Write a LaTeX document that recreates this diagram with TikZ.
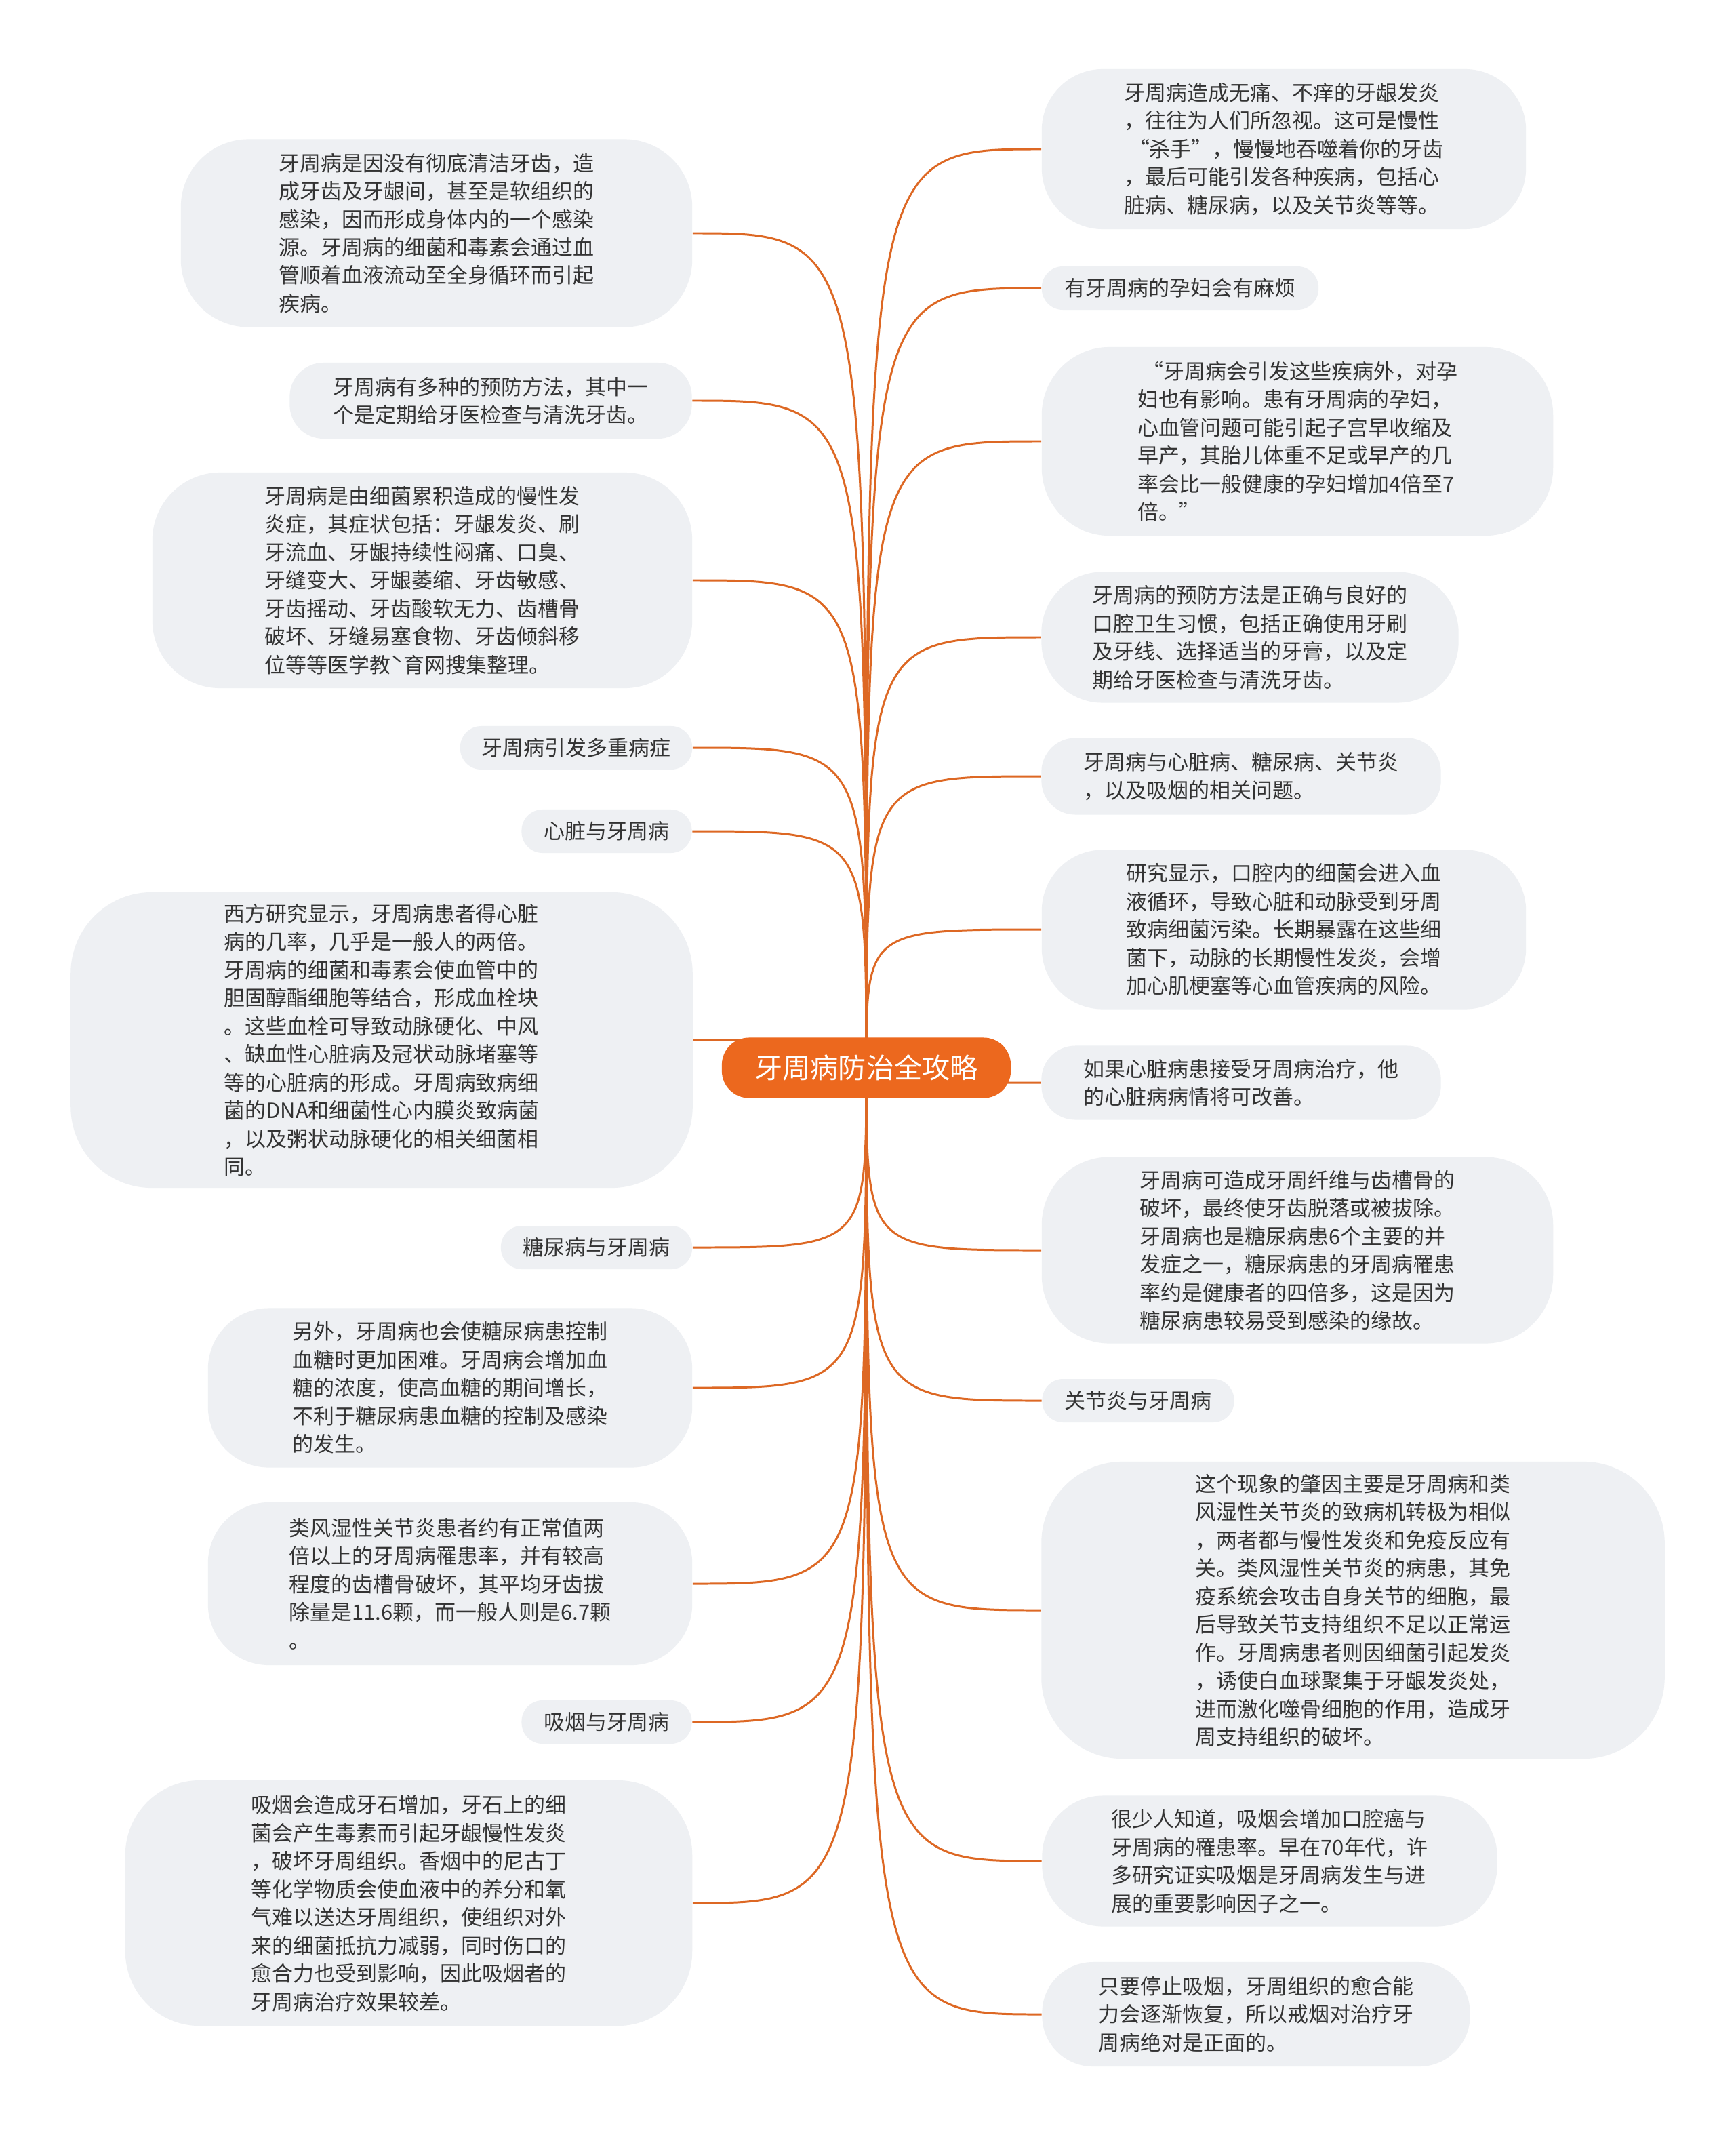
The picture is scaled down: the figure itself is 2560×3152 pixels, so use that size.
\documentclass[tikz,border=0pt]{standalone}
\usepackage{fontspec}
\setmainfont{Noto Sans CJK SC}
\usetikzlibrary{backgrounds}
\definecolor{leafgray}{RGB}{238,240,243}
\definecolor{huborange}{RGB}{236,104,30}
\definecolor{linkorange}{RGB}{221,104,36}
\definecolor{inkgray}{RGB}{51,51,51}
\begin{document}
\begin{tikzpicture}[x=0.01cm, y=-0.01cm,
    leaf/.style={fill=leafgray, text=inkgray, align=left, inner sep=0pt,
      font=\fontsize{8.8pt}{11.8pt}\selectfont},
    tag/.style={leaf, minimum height=0.64cm, rounded corners=0.31cm},
    hub/.style={fill=huborange, text=white, rounded corners=0.4cm,
      minimum width=4.26cm, minimum height=0.89cm,
      font=\fontsize{11.7pt}{14pt}\selectfont},
    link/.style={draw=linkorange, line width=0.85pt}]
    % Page
    \useasboundingbox (0,0) rectangle (2560,3152);

    % Centre
    \node[hub] (hub) at (1278,1575) {牙周病防治全攻略};

    % Left branches
    \node[leaf, minimum width=7.54cm, minimum height=2.77cm, rounded corners=1cm] (infection) at (644,344)
      {牙周病是因没有彻底清洁牙齿，造\\成牙齿及牙龈间，甚至是软组织的\\感染，因而形成身体内的一个感染\\源。牙周病的细菌和毒素会通过血\\管顺着血液流动至全身循环而引起\\疾病。};
    \node[leaf, minimum width=5.93cm, minimum height=1.12cm, rounded corners=0.5cm] (checkup) at (724,591)
      {牙周病有多种的预防方法，其中一\\个是定期给牙医检查与清洗牙齿。};
    \node[leaf, minimum width=7.96cm, minimum height=3.18cm, rounded corners=1cm] (symptoms) at (623,856)
      {牙周病是由细菌累积造成的慢性发\\炎症，其症状包括：牙龈发炎、刷\\牙流血、牙龈持续性闷痛、口臭、\\牙缝变大、牙龈萎缩、牙齿敏感、\\牙齿摇动、牙齿酸软无力、齿槽骨\\破坏、牙缝易塞食物、牙齿倾斜移\\位等等医学教ˋ育网搜集整理。};
    \node[tag, minimum width=3.42cm] (multi) at (850,1103) {牙周病引发多重病症};
    \node[tag, minimum width=2.51cm] (heart) at (895,1226) {心脏与牙周病};
    \node[leaf, minimum width=9.17cm, minimum height=4.36cm, rounded corners=1.2cm] (heartrisk) at (563,1534)
      {西方研究显示，牙周病患者得心脏\\病的几率，几乎是一般人的两倍。\\牙周病的细菌和毒素会使血管中的\\胆固醇酯细胞等结合，形成血栓块\\。这些血栓可导致动脉硬化、中风\\、缺血性心脏病及冠状动脉堵塞等\\等的心脏病的形成。牙周病致病细\\菌的DNA和细菌性心内膜炎致病菌\\，以及粥状动脉硬化的相关细菌相\\同。};
    \node[tag, minimum width=2.82cm] (diabetes) at (880,1840) {糖尿病与牙周病};
    \node[leaf, minimum width=7.14cm, minimum height=2.35cm, rounded corners=0.9cm] (sugar) at (664,2047)
      {另外，牙周病也会使糖尿病患控制\\血糖时更加困难。牙周病会增加血\\糖的浓度，使高血糖的期间增长，\\不利于糖尿病患血糖的控制及感染\\的发生。};
    \node[leaf, minimum width=7.14cm, minimum height=2.40cm, rounded corners=0.9cm] (jointrate) at (664,2336)
      {类风湿性关节炎患者约有正常值两\\倍以上的牙周病罹患率，并有较高\\程度的齿槽骨破坏，其平均牙齿拔\\除量是11.6颗，而一般人则是6.7颗\\。};
    \node[tag, minimum width=2.51cm] (smoking) at (895,2540) {吸烟与牙周病};
    \node[leaf, minimum width=8.36cm, minimum height=3.62cm, rounded corners=1.1cm] (tartar) at (603,2807)
      {吸烟会造成牙石增加，牙石上的细\\菌会产生毒素而引起牙龈慢性发炎\\，破坏牙周组织。香烟中的尼古丁\\等化学物质会使血液中的养分和氧\\气难以送达牙周组织，使组织对外\\来的细菌抵抗力减弱，同时伤口的\\愈合力也受到影响，因此吸烟者的\\牙周病治疗效果较差。};

    % Right branches
    \node[leaf, minimum width=7.14cm, minimum height=2.36cm, rounded corners=0.9cm] (silent) at (1894,220)
      {牙周病造成无痛、不痒的牙龈发炎\\，往往为人们所忽视。这可是慢性\\\hspace*{.2em}“杀手”，慢慢地吞噬着你的牙齿\\，最后可能引发各种疾病，包括心\\脏病、糖尿病，以及关节炎等等。};
    \node[tag, minimum width=4.08cm] (pregnant) at (1741,425) {有牙周病的孕妇会有麻烦};
    \node[leaf, minimum width=7.54cm, minimum height=2.78cm, rounded corners=1cm] (pregrisk) at (1914,651)
      {\hspace*{.25em}“牙周病会引发这些疾病外，对孕\\妇也有影响。患有牙周病的孕妇，\\心血管问题可能引起子宫早收缩及\\早产，其胎儿体重不足或早产的几\\率会比一般健康的孕妇增加4倍至7\\倍。”};
    \node[leaf, minimum width=6.15cm, minimum height=1.93cm, rounded corners=0.9cm] (prevent) at (1844,940)
      {牙周病的预防方法是正确与良好的\\口腔卫生习惯，包括正确使用牙刷\\及牙线、选择适当的牙膏，以及定\\期给牙医检查与清洗牙齿。};
    \node[leaf, minimum width=5.89cm, minimum height=1.13cm, rounded corners=0.5cm] (related) at (1831,1145)
      {牙周病与心脏病、糖尿病、关节炎\\，以及吸烟的相关问题。};
    \node[leaf, minimum width=7.14cm, minimum height=2.35cm, rounded corners=0.9cm] (blood) at (1894,1371)
      {研究显示，口腔内的细菌会进入血\\液循环，导致心脏和动脉受到牙周\\致病细菌污染。长期暴露在这些细\\菌下，动脉的长期慢性发炎，会增\\加心肌梗塞等心血管疾病的风险。};
    \node[leaf, minimum width=5.89cm, minimum height=1.09cm, rounded corners=0.5cm] (treat) at (1831,1597)
      {如果心脏病患接受牙周病治疗，他\\的心脏病病情将可改善。};
    \node[leaf, minimum width=7.54cm, minimum height=2.75cm, rounded corners=1cm] (bone) at (1914,1844)
      {牙周病可造成牙周纤维与齿槽骨的\\破坏，最终使牙齿脱落或被拔除。\\牙周病也是糖尿病患6个主要的并\\发症之一，糖尿病患的牙周病罹患\\率约是健康者的四倍多，这是因为\\糖尿病患较易受到感染的缘故。};
    \node[tag, minimum width=2.83cm] (arthritis) at (1679,2066) {关节炎与牙周病};
    \node[leaf, minimum width=9.19cm, minimum height=4.38cm, rounded corners=1.2cm] (immune) at (1996,2375)
      {这个现象的肇因主要是牙周病和类\\风湿性关节炎的致病机转极为相似\\，两者都与慢性发炎和免疫反应有\\关。类风湿性关节炎的病患，其免\\疫系统会攻击自身关节的细胞，最\\后导致关节支持组织不足以正常运\\作。牙周病患者则因细菌引起发炎\\，诱使白血球聚集于牙龈发炎处，\\进而激化噬骨细胞的作用，造成牙\\周支持组织的破坏。};
    \node[leaf, minimum width=6.71cm, minimum height=1.93cm, rounded corners=0.9cm] (cancer) at (1873,2745)
      {很少人知道，吸烟会增加口腔癌与\\牙周病的罹患率。早在70年代，许\\多研究证实吸烟是牙周病发生与进\\展的重要影响因子之一。};
    \node[leaf, minimum width=6.31cm, minimum height=1.54cm, rounded corners=0.75cm] (quit) at (1853,2971)
      {只要停止吸烟，牙周组织的愈合能\\力会逐渐恢复，所以戒烟对治疗牙\\周病绝对是正面的。};

    % Connectors (white page first, then the curves, all behind the nodes)
    \begin{scope}[on background layer]
      \fill[white] (0,0) rectangle (2560,3152);
      \foreach \n in {infection,checkup,symptoms,multi,heart,heartrisk,diabetes,sugar,jointrate,smoking,tartar}
        \draw[link] (hub.center) .. controls (hub.center |- \n.east) .. (\n.east);
      \foreach \n in {silent,pregnant,pregrisk,prevent,related,blood,treat,bone,arthritis,immune,cancer,quit}
        \draw[link] (hub.center) .. controls (hub.center |- \n.west) .. (\n.west);
    \end{scope}
\end{tikzpicture}
\end{document}
